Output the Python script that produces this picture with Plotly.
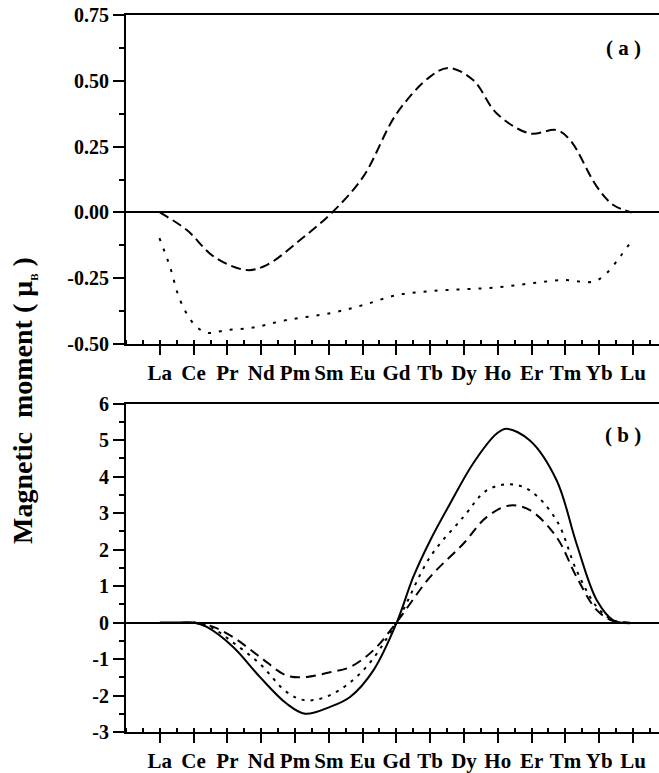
import plotly.graph_objects as go
from plotly.subplots import make_subplots

elements = ["La", "Ce", "Pr", "Nd", "Pm", "Sm", "Eu", "Gd", "Tb", "Dy", "Ho", "Er", "Tm", "Yb", "Lu"]
elem_pos = list(range(1, 16))

# Panel (a)
a_dash_x = [1.0, 1.8, 2.6, 3.57, 4.16, 5.15, 6.1, 7.02, 8.01, 9.0, 9.55, 10.27, 10.97, 11.95, 12.74, 13.14, 13.93, 14.42, 14.96]
a_dash_y = [0.0, -0.067, -0.168, -0.219, -0.200, -0.105, 0.0, 0.136, 0.376, 0.516, 0.549, 0.503, 0.376, 0.300, 0.313, 0.275, 0.098, 0.028, 0.0]

a_dot_x = [0.99, 1.30, 1.60, 1.99, 2.39, 2.98, 3.77, 4.75, 6.04, 7.02, 8.01, 9.0, 9.98, 10.97, 11.95, 12.94, 13.83, 14.22, 14.62, 14.96]
a_dot_y = [-0.098, -0.206, -0.333, -0.421, -0.457, -0.447, -0.437, -0.409, -0.383, -0.352, -0.314, -0.299, -0.292, -0.285, -0.270, -0.257, -0.263, -0.231, -0.168, -0.108]

# Panel (b)
b_solid_x = [1.0, 1.6, 2.0, 2.39, 3.17, 3.96, 4.75, 5.30, 6.04, 6.63, 7.32, 8.01, 8.5, 9.0, 9.59, 10.27, 10.97, 11.26, 11.95, 12.74, 13.33, 13.93, 14.42, 14.91]
b_solid_y = [0.0, 0.0, 0.0, -0.12, -0.67, -1.49, -2.22, -2.50, -2.31, -2.04, -1.31, 0.0, 1.25, 2.25, 3.26, 4.36, 5.18, 5.31, 4.99, 3.90, 2.16, 0.61, 0.06, -0.02]

b_dot_x = [2.0, 2.5, 3.17, 3.96, 4.75, 5.30, 6.04, 7.02, 8.0, 9.0, 9.98, 10.67, 11.36, 11.95, 12.74, 13.33, 13.93, 14.42, 14.9]
b_dot_y = [0.0, -0.12, -0.55, -1.13, -1.90, -2.13, -1.99, -1.31, 0.0, 1.80, 2.89, 3.62, 3.79, 3.62, 2.80, 1.43, 0.43, 0.06, 0.0]

b_dash_x = [2.0, 2.58, 3.17, 3.96, 4.75, 5.35, 6.04, 6.63, 7.32, 8.0, 9.0, 9.98, 10.67, 11.36, 11.95, 12.74, 13.33, 13.93, 14.42, 14.9]
b_dash_y = [0.0, -0.12, -0.40, -0.94, -1.45, -1.49, -1.36, -1.22, -0.76, 0.0, 1.25, 2.16, 2.89, 3.21, 3.08, 2.34, 1.25, 0.34, 0.04, 0.0]

a_yticks = [-0.5, -0.25, 0.0, 0.25, 0.5, 0.75]
a_ytext = ["-0.50", "-0.25", "0.00", "0.25", "0.50", "0.75"]
b_yticks = [-3, -2, -1, 0, 1, 2, 3, 4, 5, 6]
b_ytext = ["-3", "-2", "-1", "0", "1", "2", "3", "4", "5", "6"]

FONT = "Liberation Serif"

fig = make_subplots(rows=2, cols=1, vertical_spacing=0.0)

fig.add_trace(go.Scatter(x=a_dash_x, y=a_dash_y, mode="lines", line=dict(color="black", width=2, dash="10px,5px", shape="spline", smoothing=1.0)), row=1, col=1)
fig.add_trace(go.Scatter(x=a_dot_x, y=a_dot_y, mode="lines", line=dict(color="black", width=2, dash="3px,8px", shape="spline", smoothing=1.0)), row=1, col=1)

fig.add_trace(go.Scatter(x=b_solid_x, y=b_solid_y, mode="lines", line=dict(color="black", width=2, shape="spline", smoothing=1.0)), row=2, col=1)
fig.add_trace(go.Scatter(x=b_dot_x, y=b_dot_y, mode="lines", line=dict(color="black", width=2, dash="3px,6px", shape="spline", smoothing=1.0)), row=2, col=1)
fig.add_trace(go.Scatter(x=b_dash_x, y=b_dash_y, mode="lines", line=dict(color="black", width=2, dash="10px,6px", shape="spline", smoothing=1.0)), row=2, col=1)

ytickfont = dict(family=FONT, size=20, color="black", weight="bold")
xtickfont = dict(family=FONT, size=21, color="black", weight="bold")

xcommon = dict(range=[0, 15.77], tickmode="array", tickvals=elem_pos, ticktext=elements,
               ticks="outside", ticklen=9, tickwidth=2, tickcolor="black",
               showline=True, linecolor="black", linewidth=2, mirror=True,
               showgrid=False, zeroline=False, tickfont=xtickfont,
               minor=dict(tickmode="linear", tick0=0, dtick=0.5, ticks="inside", ticklen=4, tickwidth=1.5, tickcolor="black"))

ycommon = dict(ticks="outside", ticklen=11, tickwidth=2, tickcolor="black",
               showline=True, linecolor="black", linewidth=2,
               showgrid=False, zeroline=True, zerolinecolor="black", zerolinewidth=2,
               tickfont=ytickfont)

fig.update_xaxes(**xcommon)
fig.update_yaxes(**ycommon)
fig.update_yaxes(range=[-0.5, 0.75], tickmode="array", tickvals=a_yticks, ticktext=a_ytext,
                 minor=dict(tickmode="linear", tick0=0, dtick=0.125, ticks="outside", ticklen=5, tickwidth=1.5, tickcolor="black"),
                 domain=[0.5411, 1.0], row=1, col=1)
fig.update_yaxes(range=[-3, 6], tickmode="array", tickvals=b_yticks, ticktext=b_ytext,
                 minor=dict(tickmode="linear", tick0=0, dtick=0.5, ticks="outside", ticklen=5, tickwidth=1.5, tickcolor="black"),
                 domain=[0.0, 0.458], row=2, col=1)

fig.add_annotation(text="<b>( a )</b>", xref="paper", yref="paper", x=(623 - 126) / 533, y=1 - (48 - 15) / 717,
                   xanchor="center", yanchor="middle",
                   showarrow=False, font=dict(family=FONT, size=21, color="black"))
fig.add_annotation(text="<b>( b )</b>", xref="paper", yref="paper", x=(623 - 126) / 533, y=1 - (435 - 15) / 717,
                   xanchor="center", yanchor="middle",
                   showarrow=False, font=dict(family=FONT, size=21, color="black"))
fig.add_annotation(text="<b>Magnetic  moment ( μ<sub><span style='font-size:11px'>B</span></sub> )</b>", xref="paper", yref="paper",
                   x=(23 - 126) / 533, y=1 - (401 - 15) / 717, textangle=-90, showarrow=False,
                   xanchor="center", yanchor="middle",
                   font=dict(family=FONT, size=28, color="black"))

fig.update_layout(width=659, height=773, margin=dict(l=126, r=0, t=15, b=41),
                  showlegend=False, plot_bgcolor="white", paper_bgcolor="white",
                  font=dict(family=FONT, color="black"))

fig.write_html("out.html", config={"displayModeBar": False},
               post_script="document.body.style.margin='0';document.body.style.overflow='hidden';")
